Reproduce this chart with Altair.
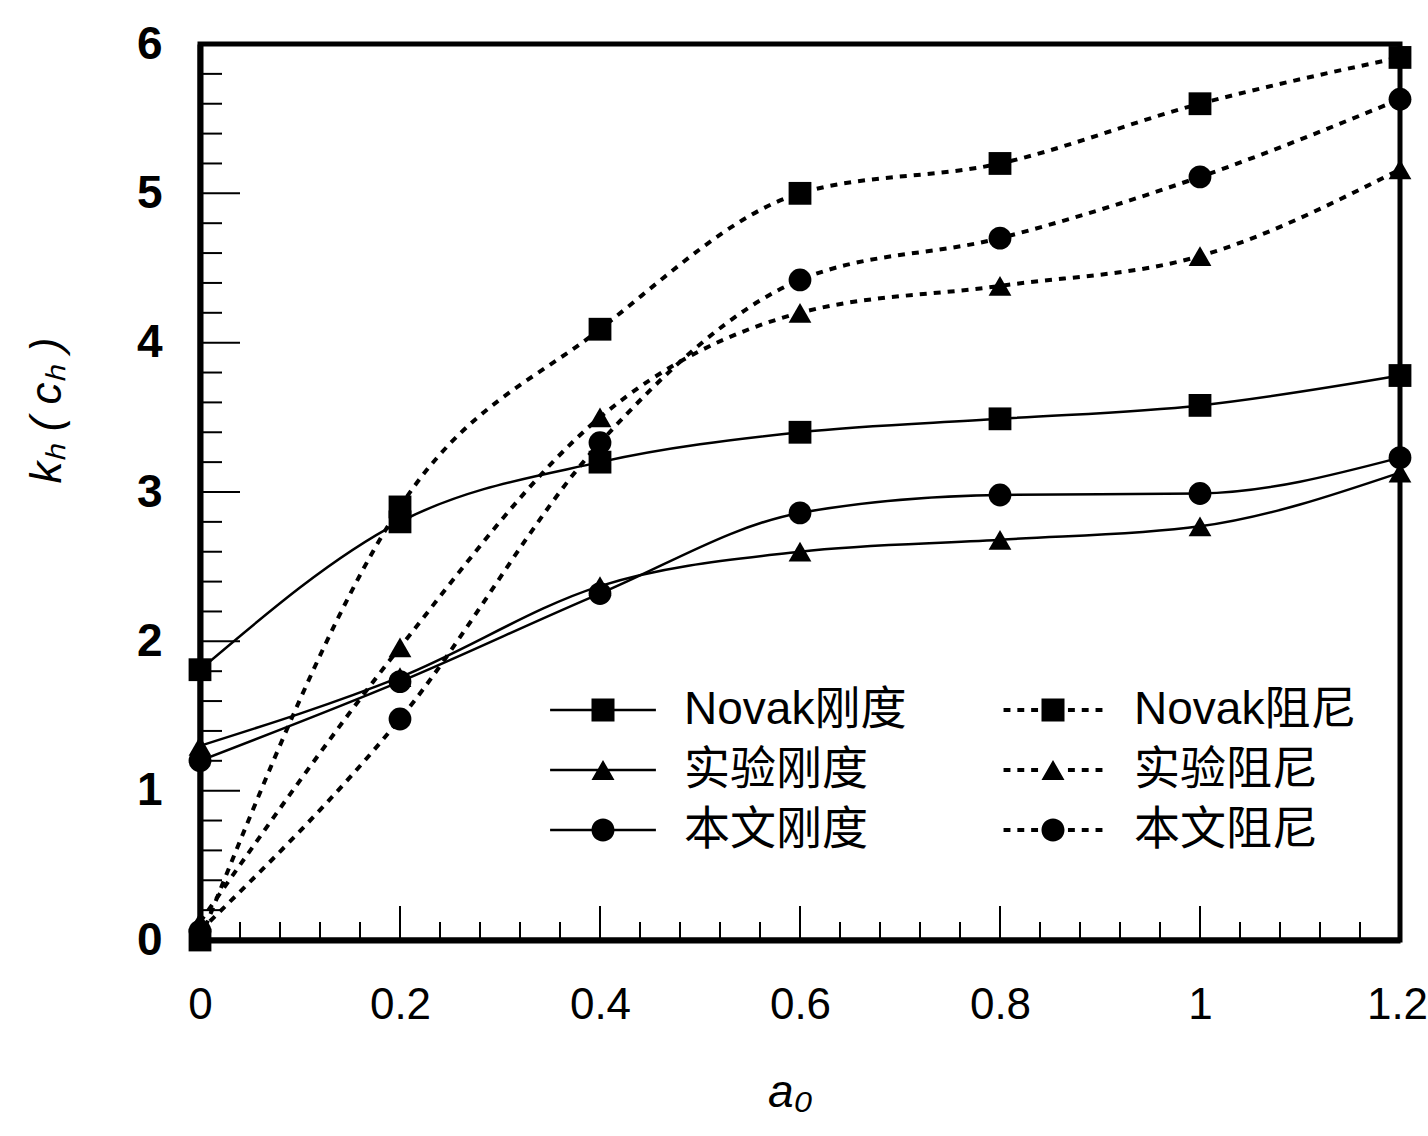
import altair as alt
import pandas as pd

# Dimensionless frequency a0
a0 = [0.0, 0.2, 0.4, 0.6, 0.8, 1.0, 1.2]

# Stiffness coefficients k_h
novak_stiffness = [1.81, 2.80, 3.20, 3.40, 3.49, 3.58, 3.78]
test_stiffness = [1.30, 1.76, 2.37, 2.60, 2.68, 2.77, 3.13]
model_stiffness = [1.20, 1.73, 2.32, 2.86, 2.98, 2.99, 3.23]

# Damping coefficients c_h
novak_damping = [0.00, 2.90, 4.09, 5.00, 5.20, 5.60, 5.91]
test_damping = [0.12, 1.96, 3.50, 4.20, 4.38, 4.58, 5.16]
model_damping = [0.06, 1.48, 3.33, 4.42, 4.70, 5.11, 5.63]

series_names = ["Novak刚度", "Novak阻尼", "实验刚度", "实验阻尼", "本文刚度", "本文阻尼"]
series_values = [novak_stiffness, novak_damping, test_stiffness,
                 test_damping, model_stiffness, model_damping]
series_shapes = ["square", "square", "triangle-up", "triangle-up", "circle", "circle"]

x_major = [0.0, 0.2, 0.4, 0.6, 0.8, 1.0, 1.2]
x_minor = [0.04, 0.08, 0.12, 0.16, 0.24, 0.28, 0.32, 0.36, 0.44, 0.48, 0.52, 0.56,
           0.64, 0.68, 0.72, 0.76, 0.84, 0.88, 0.92, 0.96, 1.04, 1.08, 1.12, 1.16]
y_major = [0, 1, 2, 3, 4, 5, 6]
y_minor = [0.2, 0.4, 0.6, 0.8, 1.2, 1.4, 1.6, 1.8, 2.2, 2.4, 2.6, 2.8, 3.2, 3.4, 3.6, 3.8,
           4.2, 4.4, 4.6, 4.8, 5.2, 5.4, 5.6, 5.8]

W, H = 1200, 896
FONT = "Liberation Sans, Arial, Noto Sans CJK SC"
DASH = [7, 7]

rows = []
for name, vals in zip(series_names, series_values):
    for x, v in zip(a0, vals):
        rows.append({"a0": x, "value": v, "series": name})
df = pd.DataFrame(rows)
stiff = df[df["series"].str.endswith("刚度")]
damp = df[df["series"].str.endswith("阻尼")]

X = alt.X(
    "a0:Q",
    scale=alt.Scale(domain=[0, 1.2], nice=False, zero=False),
    axis=alt.Axis(
        values=x_major, format="~g", title="a₀", grid=False, ticks=False, tickSize=0,
        domain=True, domainColor="black", domainWidth=6,
        labelFont=FONT, labelFontSize=44, labelColor="black", labelPadding=43,
        labelFlush=False, labelOffset={"expr": "datum.value == 1.2 ? -3 : 0"},
        titleFont=FONT, titleFontSize=46, titleFontStyle="italic", titleFontWeight="normal",
        titleColor="black", titleX=590, titleY=152, titleAlign="center", titleBaseline="middle",
    ),
)
Y = alt.Y(
    "value:Q",
    scale=alt.Scale(domain=[0, 6], nice=False, zero=False),
    axis=alt.Axis(
        values=y_major, format="d", title="kₕ ( cₕ )", grid=False, ticks=False, tickSize=0,
        domain=True, domainColor="black", domainWidth=6,
        labelFont=FONT, labelFontSize=46, labelFontWeight="bold", labelColor="black",
        labelPadding=38,
        titleFont=FONT, titleFontSize=44, titleFontStyle="italic", titleFontWeight="normal",
        titleColor="black", titleX=-153, titleY=366, titleAngle=270,
        titleAlign="center", titleBaseline="middle",
    ),
)

solid_lines = alt.Chart(stiff).mark_line(
    color="black", strokeWidth=2.5, interpolate="monotone"
).encode(x=X, y=Y, detail="series:N")

dotted_lines = alt.Chart(damp).mark_line(
    color="black", strokeWidth=4, strokeDash=DASH, interpolate="monotone"
).encode(x=X, y=Y, detail="series:N")

points = alt.Chart(df).mark_point(
    filled=True, color="black", size=520, opacity=1
).encode(
    x=X, y=Y,
    shape=alt.Shape(
        "series:N", scale=alt.Scale(domain=series_names, range=series_shapes), legend=None
    ),
)

# Legend keys drawn as filled outlines (unit box = half the marker width):
# a solid or dashed bar with the series marker in its middle.
bar_solid = "M-4.6,-0.11H4.6V0.11H-4.6Z"
bar_dotted = "".join(
    f"M{s},-0.17h0.6v0.34h-0.6Z" for s in ["-4.3", "-3.1", "-1.9", "1.3", "2.5", "3.7"]
)
marker_square = "M-1,-1H1V1H-1Z"
marker_triangle = "M0,-0.87L1,0.87H-1Z"
marker_circle = "M1,0A1,1,0,1,1,-1,0A1,1,0,1,1,1,0Z"


def legend_entry(name, key_path, legend_x, legend_y):
    legend = alt.Legend(
        title=None, orient="none", legendX=legend_x, legendY=legend_y,
        padding=0, offset=0,
        labelFont=FONT, labelFontSize=46, labelColor="black", labelLimit=500,
        labelOffset=58, symbolSize=529, symbolStrokeWidth=0, symbolType=key_path,
        symbolStrokeColor="black", symbolFillColor="black", symbolOpacity=1,
    )
    return alt.Chart(df).transform_filter("false").mark_point(
        filled=True, color="black"
    ).encode(
        x=X, y=Y,
        strokeDash=alt.StrokeDash(
            "series:N", scale=alt.Scale(domain=[name], range=[[1, 0]]), legend=legend
        ),
    )


legend_layers = [
    legend_entry("Novak刚度", bar_solid + marker_square, 380, 643),
    legend_entry("Novak阻尼", bar_dotted + marker_square, 830, 643),
    legend_entry("实验刚度", bar_solid + marker_triangle, 380, 703),
    legend_entry("实验阻尼", bar_dotted + marker_triangle, 830, 703),
    legend_entry("本文刚度", bar_solid + marker_circle, 380, 763),
    legend_entry("本文阻尼", bar_dotted + marker_circle, 830, 763),
]

# Inward tick marks
xt_major = alt.Chart(pd.DataFrame({"a0": x_major})).mark_rule(
    color="black", strokeWidth=2
).encode(x=X, y=alt.value(H), y2=alt.value(H - 34))
xt_minor = alt.Chart(pd.DataFrame({"a0": x_minor})).mark_rule(
    color="black", strokeWidth=2
).encode(x=X, y=alt.value(H), y2=alt.value(H - 18))
yt_major = alt.Chart(pd.DataFrame({"value": y_major})).mark_rule(
    color="black", strokeWidth=2
).encode(y=Y, x=alt.value(0), x2=alt.value(40))
yt_minor = alt.Chart(pd.DataFrame({"value": y_minor})).mark_rule(
    color="black", strokeWidth=2
).encode(y=Y, x=alt.value(0), x2=alt.value(22))

chart = alt.layer(
    xt_major, xt_minor, yt_major, yt_minor, solid_lines, dotted_lines, points,
    *legend_layers,
).resolve_scale(
    strokeDash="independent"
).properties(
    width=W, height=H,
    autosize=alt.AutoSizeParams(type="none"),
    padding={"left": 200, "top": 44, "right": 28, "bottom": 196},
    background="white",
).configure_view(
    stroke="black", strokeWidth=5
)

chart.save("out.html", embed_options={"renderer": "svg", "actions": False})
